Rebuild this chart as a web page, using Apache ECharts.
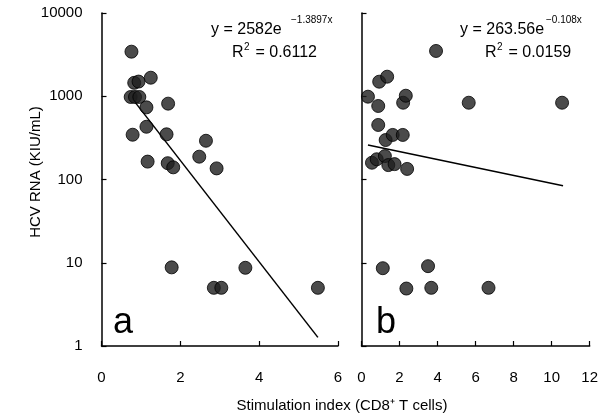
<!DOCTYPE html>
<html><head><meta charset="utf-8">
<script src="https://cdn.jsdelivr.net/npm/echarts@6/dist/echarts.min.js"></script>
<style>html,body{margin:0;padding:0;background:#fff}#c{width:601px;height:417px}</style>
</head><body><div id="c"></div>
<script>
// Panel a data (Stimulation index, HCV RNA)
var aX = [0.76, 0.83, 0.94, 1.25, 0.74, 0.85, 0.96, 1.14, 1.69, 1.14, 0.79, 1.65, 2.65, 2.48, 1.17, 1.68, 1.82, 2.92, 1.78, 2.85, 3.04, 3.65, 5.49];
var aY = [3430, 1450, 1500, 1670, 980, 980, 980, 736, 815, 430, 345, 349, 292, 188, 164, 157, 140, 136, 8.8, 5.0, 5.0, 8.7, 5.0];
// Panel b data
var bX = [3.92, 0.93, 1.35, 0.34, 0.88, 2.19, 2.33, 5.64, 10.55, 0.88, 1.27, 1.64, 2.17, 0.55, 0.80, 1.23, 1.41, 1.74, 2.40, 1.12, 3.50, 2.36, 3.67, 6.68];
var bY = [3500, 1496, 1718, 988, 764, 836, 1015, 836, 836, 452, 298, 343, 343, 159, 175, 191, 149, 153, 134, 8.6, 9.1, 4.9, 5.0, 5.0];
// Trend line endpoints
var aLineX = [0.85, 5.49];
var aLineY = [850, 1.27];
var bLineX = [0.34, 10.6];
var bLineY = [259, 84];
// Ticks
var yTicks = [1, 10, 100, 1000, 10000];
var aXMax = 6, bXMax = 12, xStep = 2;

function pairs(xs, ys){ return xs.map(function(x,i){return [x, ys[i]];}); }

var chart = echarts.init(document.getElementById('c'), null, {renderer:'canvas'});
var FONT = '"Liberation Sans", Arial, sans-serif';
var axisLine = {lineStyle:{color:'#000', width:1.5}};
var axisTick = {show:true, inside:true, length:5, lineStyle:{color:'#000', width:1.2}};
var tickLabel = {color:'#000', fontSize:15, fontFamily:FONT, margin:22};

function xAxis(idx, max){
  return {type:'value', gridIndex:idx, min:0, max:max, interval:xStep,
    axisLine:axisLine, axisTick:axisTick, splitLine:{show:false},
    axisLabel:Object.assign({}, tickLabel, {margin:24})};
}
function yAxis(idx, showLabel){
  return {type:'log', logBase:10, gridIndex:idx, min:yTicks[0], max:yTicks[yTicks.length-1],
    axisLine:{show:true, onZero:false, lineStyle:{color:'#000', width:1.5}}, axisTick:axisTick, splitLine:{show:false}, minorTick:{show:false},
    axisLabel:Object.assign({}, tickLabel, {show:showLabel, margin:19, formatter:function(v){return String(Math.round(v));}})};
}
var pointStyle = {color:'#1e1e1e', borderColor:'#000', borderWidth:1};

chart.setOption({
  animation:false,
  backgroundColor:'#fff',
  grid:[
    {left:101.5, top:13, width:236.5, height:333},
    {left:361.5, top:13, width:237.5, height:333}
  ],
  xAxis:[xAxis(0, aXMax), xAxis(1, bXMax)],
  yAxis:[yAxis(0, true), yAxis(1, false)],
  series:[
    {type:'scatter', xAxisIndex:0, yAxisIndex:0, symbol:'circle', symbolSize:13, itemStyle:pointStyle, data:pairs(aX, aY), z:3},
    {type:'line', xAxisIndex:0, yAxisIndex:0, symbol:'none', lineStyle:{color:'#000', width:1.5}, data:pairs(aLineX, aLineY), z:2},
    {type:'scatter', xAxisIndex:1, yAxisIndex:1, symbol:'circle', symbolSize:13, itemStyle:pointStyle, data:pairs(bX, bY), z:3},
    {type:'line', xAxisIndex:1, yAxisIndex:1, symbol:'none', lineStyle:{color:'#000', width:1.5}, data:pairs(bLineX, bLineY), z:2}
  ],
  graphic:[
    {type:'text', left:211, top:22, style:{text:'y = 2582e', font:'16px '+FONT, fill:'#000'}},
    {type:'text', left:291, top:15, style:{text:'\u22121.3897x', font:'10px '+FONT, fill:'#000'}},
    {type:'text', left:232, top:45, style:{text:'R', font:'16px '+FONT, fill:'#000'}},
    {type:'text', left:244, top:42, style:{text:'2', font:'10px '+FONT, fill:'#000'}},
    {type:'text', left:251, top:45, style:{text:' = 0.6112', font:'16px '+FONT, fill:'#000'}},

    {type:'text', left:460, top:22, style:{text:'y = 263.56e', font:'16px '+FONT, fill:'#000'}},
    {type:'text', left:546, top:15, style:{text:'\u22120.108x', font:'10px '+FONT, fill:'#000'}},
    {type:'text', left:485, top:45, style:{text:'R', font:'16px '+FONT, fill:'#000'}},
    {type:'text', left:497, top:42, style:{text:'2', font:'10px '+FONT, fill:'#000'}},
    {type:'text', left:504, top:45, style:{text:' = 0.0159', font:'16px '+FONT, fill:'#000'}},

    {type:'text', left:113, top:305, style:{text:'a', font:'36px '+FONT, fill:'#000'}},
    {type:'text', left:376, top:305, style:{text:'b', font:'36px '+FONT, fill:'#000'}},

    {type:'text', x:342, y:406, style:{text:'Stimulation index (CD8\u207A T cells)', font:'15px '+FONT, fill:'#000', align:'center', verticalAlign:'middle'}},
    {type:'text', x:36, y:172, rotation:Math.PI/2, style:{text:'HCV RNA (KIU/mL)', font:'15px '+FONT, fill:'#000', align:'center', verticalAlign:'middle'}}
  ]
});
</script></body></html>
